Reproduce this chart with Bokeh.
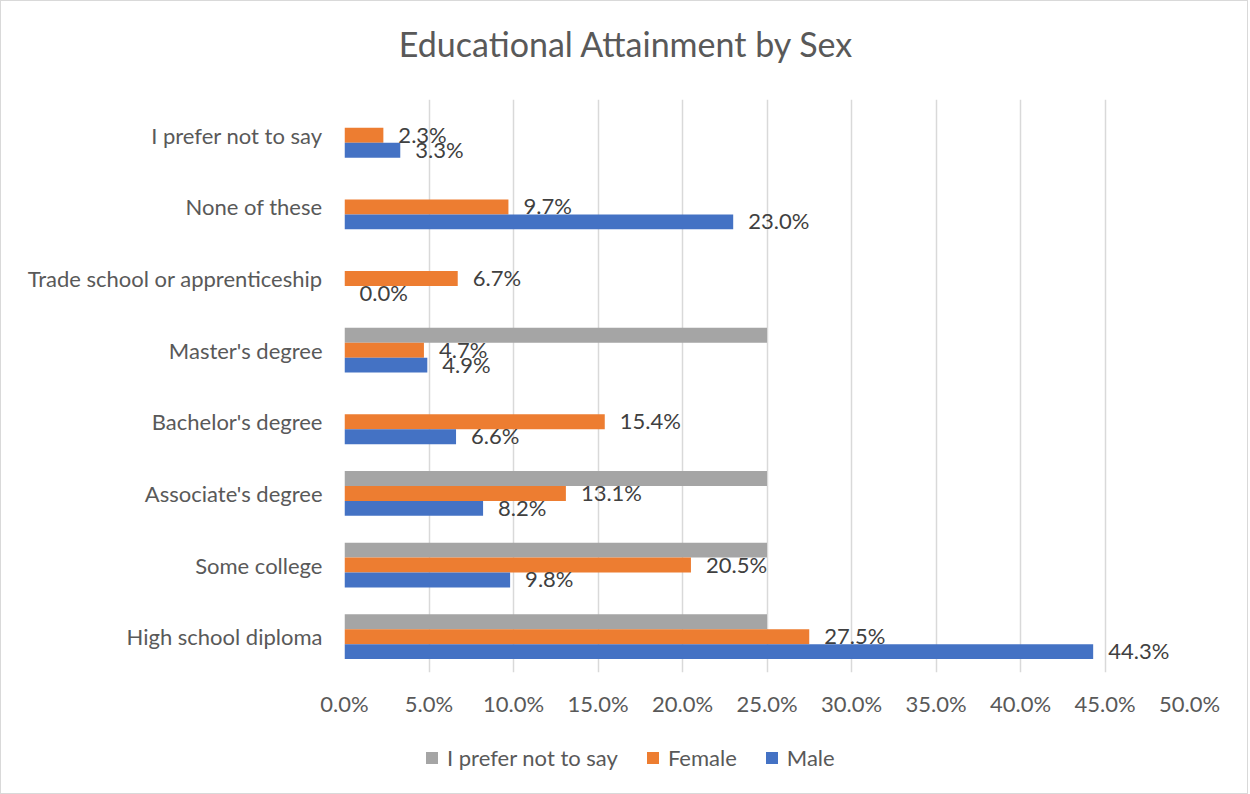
from bokeh.plotting import figure
from bokeh.layouts import column
from bokeh.models import (ColumnDataSource, FactorRange, Range1d, PrintfTickFormatter,
                          FixedTicker, Legend, LegendItem, Label)
from bokeh.transform import dodge
from bokeh.core.properties import value
from bokeh.embed import file_html
from bokeh.resources import INLINE

categories = ["High school diploma", "Some college", "Associate's degree", "Bachelor's degree",
              "Master's degree", "Trade school or apprenticeship", "None of these", "I prefer not to say"]
male = [44.3, 9.8, 8.2, 6.6, 4.9, 0.0, 23.0, 3.3]
female = [27.5, 20.5, 13.1, 15.4, 4.7, 6.7, 9.7, 2.3]
prefer_not = [25.0, 25.0, 25.0, 0.0, 25.0, 0.0, 0.0, 0.0]
x_ticks = [0, 5, 10, 15, 20, 25, 30, 35, 40, 45, 50]
series_names = ["I prefer not to say", "Female", "Male"]
series_colors = ["#A5A5A5", "#ED7D31", "#4472C4"]
title_text = "Educational Attainment by Sex"

FONT = "Lato"
TXT = "#595959"
FS = "22px"
W = 1248
LEFT, RIGHT = 343, 58

src = ColumnDataSource(dict(
    cat=categories, male=male, female=female, prefer=prefer_not,
    male_lbl=[f"{v:.1f}%" for v in male],
    female_lbl=[f"{v:.1f}%" for v in female],
))

# ---- title strip
TITLE_H = 98
pt = figure(width=W, height=TITLE_H, output_backend="svg", toolbar_location=None, title=None,
            x_axis_type=None, y_axis_type=None, x_range=Range1d(0, 1), y_range=Range1d(0, 1),
            min_border=0, min_border_left=LEFT, min_border_right=RIGHT)
pt.outline_line_color = None
pt.grid.visible = False
pt.add_layout(Label(x=626 - 1 - LEFT, y=TITLE_H - 42, x_units="screen", y_units="screen",
                    text=title_text, text_align="center", text_baseline="middle",
                    text_font=FONT, text_font_size="34px", text_color=TXT))

# ---- main chart
MAIN_H = 627
p = figure(width=W, height=MAIN_H, output_backend="svg", toolbar_location=None, title=None,
           y_range=FactorRange(*categories, range_padding=0), x_range=Range1d(0, 50),
           min_border_left=LEFT, min_border_right=RIGHT, min_border_top=0,
           min_border_bottom=54)
p.outline_line_color = None
p.background_fill_color = "white"

bw = 0.208
p.hbar(y=dodge("cat", bw, range=p.y_range), right="prefer", left=0, height=bw,
       source=src, fill_color=series_colors[0], line_color=None)
p.hbar(y=dodge("cat", 0, range=p.y_range), right="female", left=0, height=bw,
       source=src, fill_color=series_colors[1], line_color=None)
p.hbar(y=dodge("cat", -bw, range=p.y_range), right="male", left=0, height=bw,
       source=src, fill_color=series_colors[2], line_color=None)

p.text(x="female", y=dodge("cat", 0, range=p.y_range), text="female_lbl", source=src,
       x_offset=15, y_offset=-1, text_baseline="middle", text_align="left",
       text_font=value(FONT), text_font_size=FS, text_color="#404040")
p.text(x="male", y=dodge("cat", -bw, range=p.y_range), text="male_lbl", source=src,
       x_offset=15, y_offset=-1, text_baseline="middle", text_align="left",
       text_font=value(FONT), text_font_size=FS, text_color="#404040")

p.xaxis.ticker = FixedTicker(ticks=x_ticks)
p.xaxis.formatter = PrintfTickFormatter(format="%.1f%%")
for ax in (p.xaxis[0], p.yaxis[0]):
    ax.axis_line_color = None
    ax.major_tick_line_color = None
    ax.minor_tick_line_color = None
    ax.major_label_text_font = FONT
    ax.major_label_text_font_size = FS
    ax.major_label_text_color = TXT
p.xaxis.major_label_standoff = 11
p.yaxis.major_label_standoff = 16

p.xgrid.ticker = FixedTicker(ticks=x_ticks)
p.xgrid.grid_line_color = "#d9d9d9"
p.xgrid.grid_line_width = 1.5
p.ygrid.grid_line_color = None

# ---- legend strip (frame aligned with the main frame by the column layout)
LEG_H = 792 - TITLE_H - MAIN_H
pl = figure(width=W, height=LEG_H, output_backend="svg", toolbar_location=None, title=None,
            x_axis_type=None, y_axis_type=None, x_range=Range1d(0, 1), y_range=Range1d(0, 1),
            min_border=0, min_border_left=LEFT, min_border_right=RIGHT)
pl.outline_line_color = None
pl.grid.visible = False
items = []
for name, col in zip(series_names, series_colors):
    # swatch-only renderer kept outside the visible range
    r = pl.hbar(y=[-5], right=[0.1], left=0, height=0.5, fill_color=col, line_color=None)
    items.append(LegendItem(label=name, renderers=[r]))
legend = Legend(items=items, orientation="horizontal", location=(80, 22),
                label_text_font=FONT, label_text_font_size=FS, label_text_color=TXT,
                glyph_width=15, glyph_height=15, label_standoff=8, spacing=27,
                padding=0, margin=0, border_line_color=None, background_fill_alpha=0)
pl.add_layout(legend, "center")

layout = column(pt, p, pl, spacing=0)
layout.styles = {"border": "1px solid #d9d9d9", "width": f"{W}px"}

open("out.html", "w").write(file_html(layout, INLINE))
